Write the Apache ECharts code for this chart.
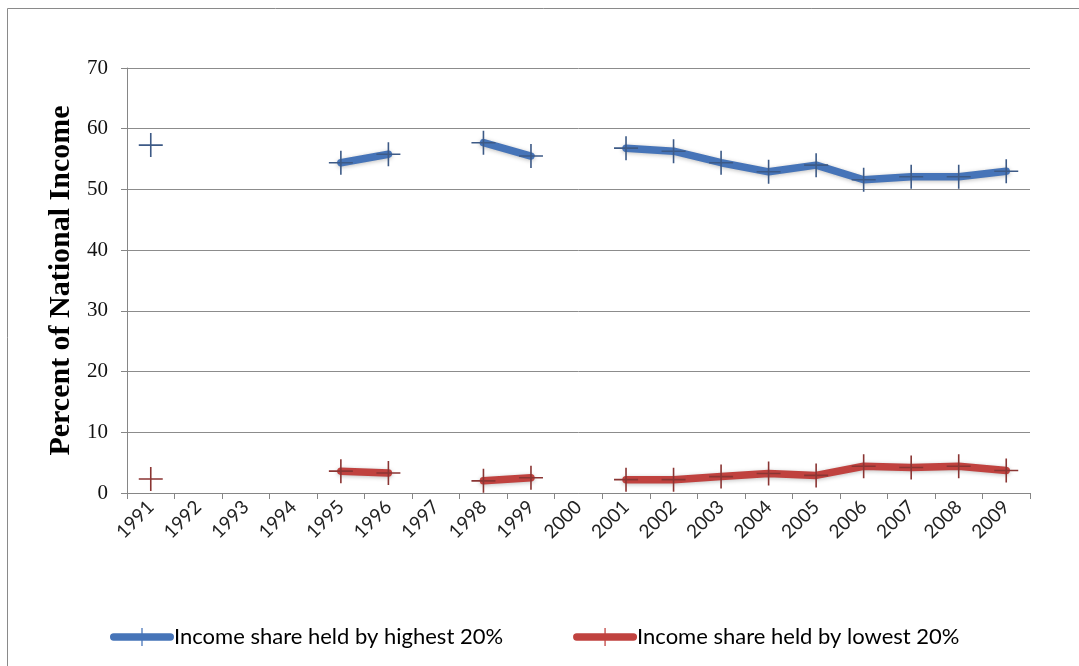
<!DOCTYPE html>
<html><head><meta charset="utf-8">
<script src="https://cdn.jsdelivr.net/npm/echarts@6/dist/echarts.min.js"></script>
<style>html,body{margin:0;padding:0;background:#fff}#c{width:1079px;height:666px}</style>
</head><body><div id="c"></div>
<script>
var years = ['1991','1992','1993','1994','1995','1996','1997','1998','1999','2000','2001','2002','2003','2004','2005','2006','2007','2008','2009'];
var highest20 = [57.3,null,null,null,54.4,55.8,null,57.7,55.5,null,56.8,56.3,54.4,52.9,54.0,51.6,52.1,52.1,53.0];
var lowest20 = [2.3,null,null,null,3.6,3.3,null,2.0,2.5,null,2.2,2.2,2.7,3.2,2.9,4.4,4.2,4.4,3.7];
var yTicks = [0,10,20,30,40,50,60,70];
var seriesNames = ['Income share held by highest 20%','Income share held by lowest 20%'];

var plus = 'path://M11.2,0 h1.6 v11.2 h11.2 v1.6 h-11.2 v11.2 h-1.6 v-11.2 h-11.2 v-1.6 h11.2 z';
var legendIcon = 'path://M4,5 L58,5 A3.5,3.5 0 0 1 58,12 L4,12 A3.5,3.5 0 0 1 4,5 Z M30.4,0 h1.2 v17 h-1.2 z';
var blue = '#4674B8', red = '#C0423F';
var chart = echarts.init(document.getElementById('c'), null, {renderer:'canvas'});
function mk(name, data, col, mcol){
  return {
    name: name, type:'line', data: data, connectNulls:false,
    symbol: plus, symbolSize: 24, showSymbol:true,
    lineStyle:{color:col, width:7.5, cap:'round', join:'round', shadowBlur:4, shadowColor:'rgba(0,0,0,0.25)', shadowOffsetY:1},
    itemStyle:{color:mcol},
    emphasis:{disabled:true}, animation:false
  };
}
chart.setOption({
  backgroundColor:'#fff',
  animation:false,
  graphic:[{type:'rect', shape:{x:7.5,y:8.5,width:1200,height:800}, style:{fill:'none', stroke:'#8a8a8a', lineWidth:1}, silent:true}],
  grid:{left:127, right:49, top:68, bottom:173, containLabel:false},
  legend:{
    data: [{name:seriesNames[0], icon:legendIcon, itemStyle:{color:blue}},
           {name:seriesNames[1], icon:legendIcon, itemStyle:{color:red}}],
    left:105, top:621, itemWidth:64, itemHeight:18, itemGap:70,
    textStyle:{fontFamily:'Lato', fontSize:22, color:'#000', padding:[0,0,0,-5]}
  },
  xAxis:{
    type:'category', data: years, boundaryGap:true,
    axisLine:{lineStyle:{color:'#868686'}},
    axisTick:{show:true, length:6, alignWithLabel:false, lineStyle:{color:'#868686'}},
    axisLabel:{rotate:45, fontFamily:'Lato', fontSize:19, color:'#222', margin:11, interval:0}
  },
  yAxis:{
    type:'value', min:0, max:70, interval:10,
    name:'Percent of National Income', nameLocation:'middle', nameGap:49, nameRotate:90,
    nameTextStyle:{fontFamily:'Liberation Serif', fontWeight:'bold', fontSize:30, color:'#000'},
    axisLine:{show:true, lineStyle:{color:'#868686'}},
    axisTick:{show:true, length:6, lineStyle:{color:'#868686'}},
    axisLabel:{fontFamily:'Liberation Serif', fontSize:21, color:'#111', margin:19,
      formatter:function(v){ return yTicks.indexOf(v)>=0 ? String(v) : ''; }},
    splitLine:{lineStyle:{color:'#8c8c8c', width:1}}
  },
  series:[
    mk(seriesNames[0], highest20, blue, '#3d5a86'),
    mk(seriesNames[1], lowest20, red, '#8a3533')
  ]
});
</script></body></html>
